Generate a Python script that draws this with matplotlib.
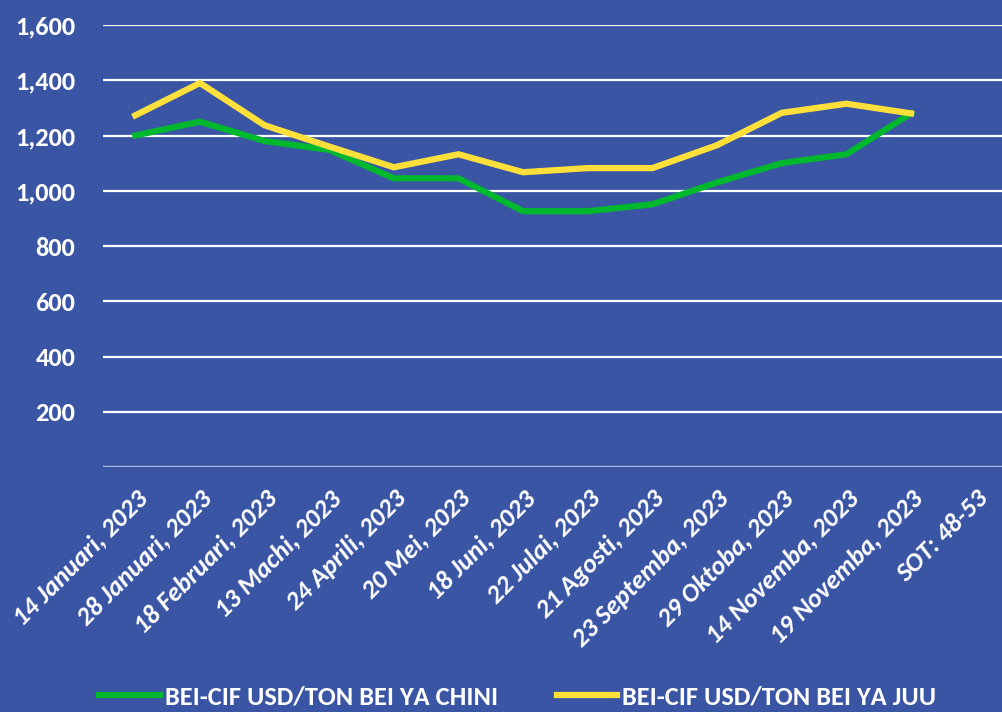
import matplotlib.pyplot as plt
import matplotlib.transforms as mtransforms

# categories and series
dates = ["14 Januari, 2023", "28 Januari, 2023", "18 Februari, 2023",
         "13 Machi, 2023", "24 Aprili, 2023", "20 Mei, 2023",
         "18 Juni, 2023", "22 Julai, 2023", "21 Agosti, 2023",
         "23 Septemba, 2023", "29 Oktoba, 2023", "14 Novemba, 2023",
         "19 Novemba, 2023", "SOT: 48-53"]
chini = [1200, 1250, 1180, 1148, 1045, 1045, 926, 926, 951, 1030, 1100, 1132, 1280]
juu = [1273, 1390, 1237, 1160, 1085, 1132, 1067, 1082, 1082, 1165, 1282, 1315, 1280]
yticks = [0, 200, 400, 600, 800, 1000, 1200, 1400, 1600]

bg = "#3A55A4"
green = "#00B82E"
yellow = "#FFE03A"

plt.rcParams['font.family'] = ["Carlito", "DejaVu Sans"]
plt.rcParams['font.weight'] = 'bold'

fig = plt.figure(figsize=(10.02, 7.12), dpi=100, facecolor=bg)
ax = fig.add_axes([103 / 1002, 245 / 712, 905 / 1002, 442 / 712])
ax.set_facecolor(bg)

x = list(range(len(chini)))
ax.plot(x, chini, color=green, linewidth=4.5, label="BEI-CIF USD/TON BEI YA CHINI",
        solid_joinstyle='miter', zorder=3)
ax.plot(x, juu, color=yellow, linewidth=4.5, label="BEI-CIF USD/TON BEI YA JUU",
        solid_joinstyle='miter', zorder=3)

ax.set_xlim(-0.5, len(dates) - 0.5)
ax.set_ylim(0, 1600)
ax.set_yticks(yticks)
ax.set_yticklabels([""] + [f"{v:,}" for v in yticks[1:]])
ax.grid(axis='y', color='white', linewidth=1.6)
ax.set_axisbelow(True)
for s in ax.spines.values():
    s.set_visible(False)
ax.axhline(0, color="#9AA8D4", linewidth=1.2, zorder=1)

ax.set_xticks(range(len(dates)))
ax.set_xticklabels(dates, rotation=45, ha='right', rotation_mode='anchor',
                   fontsize=19, fontweight='bold', fontstyle='italic', color='white')
ax.tick_params(axis='x', length=0, pad=14)
ax.tick_params(axis='y', length=0, pad=20, labelsize=19, labelcolor='white')
for t in ax.get_yticklabels():
    t.set_fontweight('bold')
shift = mtransforms.ScaledTranslation(0, 0, fig.dpi_scale_trans)
for t in ax.get_xticklabels():
    t.set_transform(t.get_transform() + shift)

leg = fig.legend(loc='center', bbox_to_anchor=(518 / 1002, 1 - 697 / 712), ncol=2,
                 frameon=False, handlelength=2.3, columnspacing=2.2,
                 handletextpad=0.2, prop={'weight': 'bold', 'size': 19})
for t in leg.get_texts():
    t.set_color('white')

fig.savefig("out.png", dpi=100, facecolor=bg)
